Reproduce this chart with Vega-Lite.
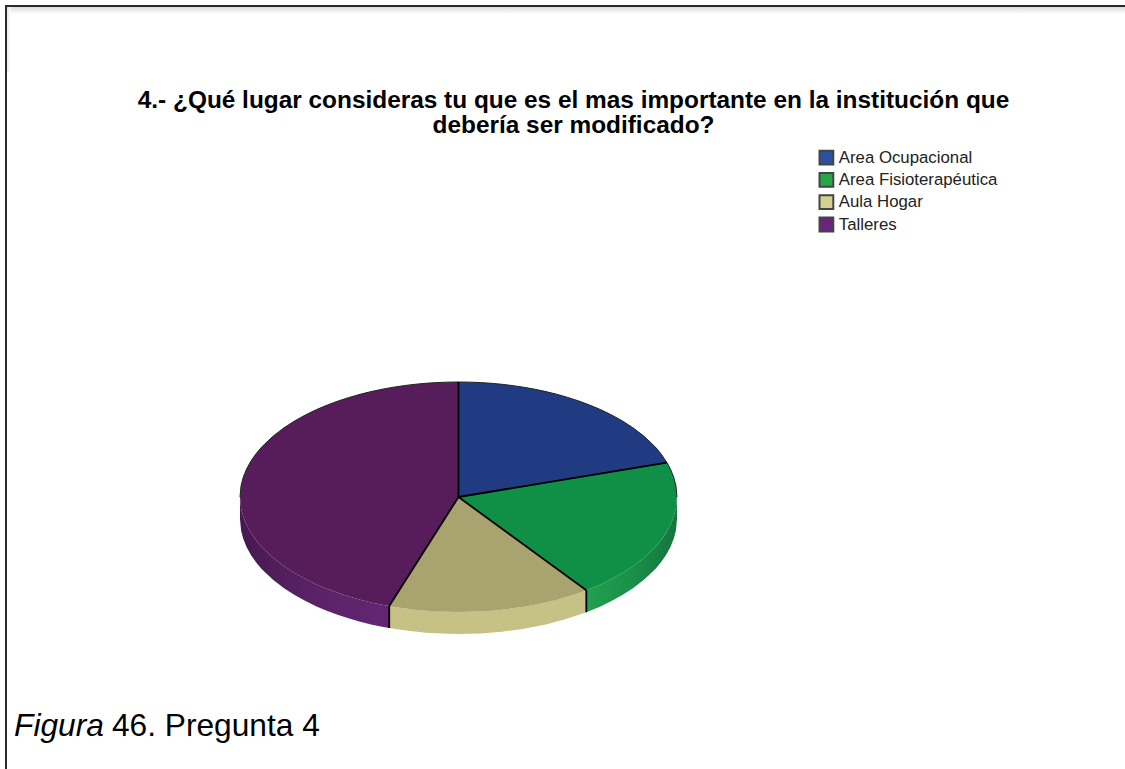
{"$schema":"https://vega.github.io/schema/vega-lite/v6.json","width":1125,"height":769,"autosize":{"type":"none"},"padding":{"left":6,"top":6,"right":0,"bottom":0},"background":"white","view":{"stroke":"#2a2a2a","strokeWidth":2,"fill":"white"},
"title":{"text":["4.- ¿Qué lugar consideras tu que es el mas importante en la institución que","debería ser modificado?"],"font":"Liberation Sans","fontSize":24.4,"fontWeight":"bold","color":"#000000","anchor":"middle","dx":5,"baseline":"alphabetic","offset":-151,"lineHeight":25},
"datasets":{
"faces":[
{"slice":"Area Ocupacional","x":0,"y":1,"y2":0},{"slice":"Area Ocupacional","x":0.05,"y":0.9987,"y2":0.0157},{"slice":"Area Ocupacional","x":0.1,"y":0.995,"y2":0.0313},{"slice":"Area Ocupacional","x":0.15,"y":0.9887,"y2":0.047},{"slice":"Area Ocupacional","x":0.2,"y":0.9798,"y2":0.0627},{"slice":"Area Ocupacional","x":0.25,"y":0.9682,"y2":0.0784},{"slice":"Area Ocupacional","x":0.3,"y":0.9539,"y2":0.094},{"slice":"Area Ocupacional","x":0.35,"y":0.9367,"y2":0.1097},{"slice":"Area Ocupacional","x":0.4,"y":0.9165,"y2":0.1254},{"slice":"Area Ocupacional","x":0.45,"y":0.893,"y2":0.141},{"slice":"Area Ocupacional","x":0.5,"y":0.866,"y2":0.1567},{"slice":"Area Ocupacional","x":0.55,"y":0.8352,"y2":0.1724},{"slice":"Area Ocupacional","x":0.6,"y":0.8,"y2":0.188},{"slice":"Area Ocupacional","x":0.65,"y":0.7599,"y2":0.2037},{"slice":"Area Ocupacional","x":0.7,"y":0.7141,"y2":0.2194},{"slice":"Area Ocupacional","x":0.75,"y":0.6614,"y2":0.2351},{"slice":"Area Ocupacional","x":0.8,"y":0.6,"y2":0.2507},{"slice":"Area Ocupacional","x":0.85,"y":0.5268,"y2":0.2664},{"slice":"Area Ocupacional","x":0.9,"y":0.4359,"y2":0.2821},{"slice":"Area Ocupacional","x":0.925,"y":0.38,"y2":0.2899},{"slice":"Area Ocupacional","x":0.954,"y":0.299,"y2":0.299},
{"slice":"Area Fisioterapéutica","x":0,"y":0,"y2":0},{"slice":"Area Fisioterapéutica","x":0.05,"y":0.0157,"y2":-0.0693},{"slice":"Area Fisioterapéutica","x":0.1,"y":0.0313,"y2":-0.1386},{"slice":"Area Fisioterapéutica","x":0.15,"y":0.047,"y2":-0.2079},{"slice":"Area Fisioterapéutica","x":0.2,"y":0.0627,"y2":-0.2772},{"slice":"Area Fisioterapéutica","x":0.25,"y":0.0784,"y2":-0.3465},{"slice":"Area Fisioterapéutica","x":0.3,"y":0.094,"y2":-0.4158},{"slice":"Area Fisioterapéutica","x":0.35,"y":0.1097,"y2":-0.4851},{"slice":"Area Fisioterapéutica","x":0.4,"y":0.1254,"y2":-0.5544},{"slice":"Area Fisioterapéutica","x":0.45,"y":0.141,"y2":-0.6237},{"slice":"Area Fisioterapéutica","x":0.5,"y":0.1567,"y2":-0.693},{"slice":"Area Fisioterapéutica","x":0.55,"y":0.1724,"y2":-0.7623},{"slice":"Area Fisioterapéutica","x":0.585,"y":0.1833,"y2":-0.811},{"slice":"Area Fisioterapéutica","x":0.6,"y":0.188,"y2":-0.8},{"slice":"Area Fisioterapéutica","x":0.65,"y":0.2037,"y2":-0.7599},{"slice":"Area Fisioterapéutica","x":0.7,"y":0.2194,"y2":-0.7141},{"slice":"Area Fisioterapéutica","x":0.75,"y":0.2351,"y2":-0.6614},{"slice":"Area Fisioterapéutica","x":0.8,"y":0.2507,"y2":-0.6},{"slice":"Area Fisioterapéutica","x":0.85,"y":0.2664,"y2":-0.5268},{"slice":"Area Fisioterapéutica","x":0.9,"y":0.2821,"y2":-0.4359},{"slice":"Area Fisioterapéutica","x":0.925,"y":0.2899,"y2":-0.38},{"slice":"Area Fisioterapéutica","x":0.954,"y":0.299,"y2":-0.2999},{"slice":"Area Fisioterapéutica","x":0.97,"y":0.2431,"y2":-0.2431},{"slice":"Area Fisioterapéutica","x":0.985,"y":0.1726,"y2":-0.1726},{"slice":"Area Fisioterapéutica","x":0.995,"y":0.0999,"y2":-0.0999},{"slice":"Area Fisioterapéutica","x":1,"y":0,"y2":0},
{"slice":"Aula Hogar","x":-0.317,"y":-0.948,"y2":-0.948},{"slice":"Aula Hogar","x":-0.3,"y":-0.897,"y2":-0.9539},{"slice":"Aula Hogar","x":-0.25,"y":-0.7476,"y2":-0.9682},{"slice":"Aula Hogar","x":-0.2,"y":-0.598,"y2":-0.9798},{"slice":"Aula Hogar","x":-0.15,"y":-0.4486,"y2":-0.9887},{"slice":"Aula Hogar","x":-0.1,"y":-0.299,"y2":-0.995},{"slice":"Aula Hogar","x":-0.05,"y":-0.1495,"y2":-0.9987},{"slice":"Aula Hogar","x":0,"y":0,"y2":-1},{"slice":"Aula Hogar","x":0.05,"y":-0.0693,"y2":-0.9987},{"slice":"Aula Hogar","x":0.1,"y":-0.1386,"y2":-0.995},{"slice":"Aula Hogar","x":0.15,"y":-0.2079,"y2":-0.9887},{"slice":"Aula Hogar","x":0.2,"y":-0.2772,"y2":-0.9798},{"slice":"Aula Hogar","x":0.25,"y":-0.3465,"y2":-0.9682},{"slice":"Aula Hogar","x":0.3,"y":-0.4158,"y2":-0.9539},{"slice":"Aula Hogar","x":0.35,"y":-0.4851,"y2":-0.9367},{"slice":"Aula Hogar","x":0.4,"y":-0.5544,"y2":-0.9165},{"slice":"Aula Hogar","x":0.45,"y":-0.6237,"y2":-0.893},{"slice":"Aula Hogar","x":0.5,"y":-0.693,"y2":-0.866},{"slice":"Aula Hogar","x":0.55,"y":-0.7623,"y2":-0.8352},{"slice":"Aula Hogar","x":0.585,"y":-0.811,"y2":-0.811},
{"slice":"Talleres","x":-1,"y":0,"y2":0},{"slice":"Talleres","x":-0.995,"y":0.0999,"y2":-0.0999},{"slice":"Talleres","x":-0.985,"y":0.1726,"y2":-0.1726},{"slice":"Talleres","x":-0.97,"y":0.2431,"y2":-0.2431},{"slice":"Talleres","x":-0.95,"y":0.3122,"y2":-0.3122},{"slice":"Talleres","x":-0.925,"y":0.38,"y2":-0.38},{"slice":"Talleres","x":-0.9,"y":0.4359,"y2":-0.4359},{"slice":"Talleres","x":-0.85,"y":0.5268,"y2":-0.5268},{"slice":"Talleres","x":-0.8,"y":0.6,"y2":-0.6},{"slice":"Talleres","x":-0.75,"y":0.6614,"y2":-0.6614},{"slice":"Talleres","x":-0.7,"y":0.7141,"y2":-0.7141},{"slice":"Talleres","x":-0.65,"y":0.7599,"y2":-0.7599},{"slice":"Talleres","x":-0.6,"y":0.8,"y2":-0.8},{"slice":"Talleres","x":-0.55,"y":0.8352,"y2":-0.8352},{"slice":"Talleres","x":-0.5,"y":0.866,"y2":-0.866},{"slice":"Talleres","x":-0.45,"y":0.893,"y2":-0.893},{"slice":"Talleres","x":-0.4,"y":0.9165,"y2":-0.9165},{"slice":"Talleres","x":-0.35,"y":0.9367,"y2":-0.9367},{"slice":"Talleres","x":-0.317,"y":0.9484,"y2":-0.948},{"slice":"Talleres","x":-0.3,"y":0.9539,"y2":-0.897},{"slice":"Talleres","x":-0.25,"y":0.9682,"y2":-0.7476},{"slice":"Talleres","x":-0.2,"y":0.9798,"y2":-0.598},{"slice":"Talleres","x":-0.15,"y":0.9887,"y2":-0.4486},{"slice":"Talleres","x":-0.1,"y":0.995,"y2":-0.299},{"slice":"Talleres","x":-0.05,"y":0.9987,"y2":-0.1495},{"slice":"Talleres","x":0,"y":1,"y2":0}],
"sides":[
{"slice":"Talleres","x":-1,"y":0,"y2":-0.1913},{"slice":"Talleres","x":-0.995,"y":-0.0999,"y2":-0.2912},{"slice":"Talleres","x":-0.985,"y":-0.1726,"y2":-0.3639},{"slice":"Talleres","x":-0.97,"y":-0.2431,"y2":-0.4344},{"slice":"Talleres","x":-0.95,"y":-0.3122,"y2":-0.5035},{"slice":"Talleres","x":-0.925,"y":-0.38,"y2":-0.5713},{"slice":"Talleres","x":-0.9,"y":-0.4359,"y2":-0.6272},{"slice":"Talleres","x":-0.85,"y":-0.5268,"y2":-0.7181},{"slice":"Talleres","x":-0.8,"y":-0.6,"y2":-0.7913},{"slice":"Talleres","x":-0.75,"y":-0.6614,"y2":-0.8527},{"slice":"Talleres","x":-0.7,"y":-0.7141,"y2":-0.9054},{"slice":"Talleres","x":-0.65,"y":-0.7599,"y2":-0.9512},{"slice":"Talleres","x":-0.6,"y":-0.8,"y2":-0.9913},{"slice":"Talleres","x":-0.55,"y":-0.8352,"y2":-1.0265},{"slice":"Talleres","x":-0.5,"y":-0.866,"y2":-1.0573},{"slice":"Talleres","x":-0.45,"y":-0.893,"y2":-1.0843},{"slice":"Talleres","x":-0.4,"y":-0.9165,"y2":-1.1078},{"slice":"Talleres","x":-0.35,"y":-0.9367,"y2":-1.128},{"slice":"Talleres","x":-0.317,"y":-0.948,"y2":-1.1393},
{"slice":"Aula Hogar","x":-0.317,"y":-0.948,"y2":-1.1393},{"slice":"Aula Hogar","x":-0.25,"y":-0.9682,"y2":-1.1595},{"slice":"Aula Hogar","x":-0.15,"y":-0.9887,"y2":-1.18},{"slice":"Aula Hogar","x":-0.05,"y":-0.9987,"y2":-1.19},{"slice":"Aula Hogar","x":0,"y":-1,"y2":-1.1913},{"slice":"Aula Hogar","x":0.1,"y":-0.995,"y2":-1.1863},{"slice":"Aula Hogar","x":0.2,"y":-0.9798,"y2":-1.1711},{"slice":"Aula Hogar","x":0.3,"y":-0.9539,"y2":-1.1452},{"slice":"Aula Hogar","x":0.4,"y":-0.9165,"y2":-1.1078},{"slice":"Aula Hogar","x":0.5,"y":-0.866,"y2":-1.0573},{"slice":"Aula Hogar","x":0.585,"y":-0.811,"y2":-1.0023},
{"slice":"Area Fisioterapéutica","x":0.585,"y":-0.811,"y2":-1.0023},{"slice":"Area Fisioterapéutica","x":0.65,"y":-0.7599,"y2":-0.9512},{"slice":"Area Fisioterapéutica","x":0.7,"y":-0.7141,"y2":-0.9054},{"slice":"Area Fisioterapéutica","x":0.75,"y":-0.6614,"y2":-0.8527},{"slice":"Area Fisioterapéutica","x":0.8,"y":-0.6,"y2":-0.7913},{"slice":"Area Fisioterapéutica","x":0.85,"y":-0.5268,"y2":-0.7181},{"slice":"Area Fisioterapéutica","x":0.9,"y":-0.4359,"y2":-0.6272},{"slice":"Area Fisioterapéutica","x":0.925,"y":-0.38,"y2":-0.5713},{"slice":"Area Fisioterapéutica","x":0.95,"y":-0.3122,"y2":-0.5035},{"slice":"Area Fisioterapéutica","x":0.97,"y":-0.2431,"y2":-0.4344},{"slice":"Area Fisioterapéutica","x":0.985,"y":-0.1726,"y2":-0.3639},{"slice":"Area Fisioterapéutica","x":0.995,"y":-0.0999,"y2":-0.2912},{"slice":"Area Fisioterapéutica","x":1,"y":0,"y2":-0.1913}],
"seams":[
{"seam":"a","x":0,"y":0},{"seam":"a","x":0,"y":1},
{"seam":"b","x":0,"y":0},{"seam":"b","x":0.954,"y":0.299},
{"seam":"c","x":0,"y":0},{"seam":"c","x":0.585,"y":-0.811},
{"seam":"d","x":-0.317,"y":-0.948},{"seam":"d","x":0,"y":0},
{"seam":"e","x":-0.317,"y":-0.948},{"seam":"e","x":-0.317,"y":-1.1393},
{"seam":"f","x":0.585,"y":-0.811},{"seam":"f","x":0.585,"y":-1.0023}],
"captions":[{"t":"Figura","x":-2.034,"y":-2.078,"part":"italic"},{"t":"46. Pregunta 4","x":-1.586,"y":-2.078,"part":"regular"}],
"bands":[{"band":"top","x":-2.066,"x2":3.0778,"y":4.26,"y2":4.2},{"band":"left","x":-2.066,"x2":-2.05,"y":4.26,"y2":3.7}]},
"encoding":{
"x":{"field":"x","type":"quantitative","axis":null,"scale":{"domain":[-2.0709,3.0778],"nice":false,"zero":false}},
"y":{"field":"y","type":"quantitative","axis":null,"stack":null,"scale":{"domain":[-2.4174,4.2696],"nice":false,"zero":false}}},
"resolve":{"scale":{"color":"independent"}},
"layer":[
{"data":{"name":"bands"},"transform":[{"filter":"datum.band==='top'"}],"mark":{"type":"rect","color":{"gradient":"linear","x1":0,"y1":0,"x2":0,"y2":1,"stops":[{"offset":0,"color":"#dcdcdc"},{"offset":1,"color":"#ffffff"}]}},"encoding":{"x2":{"field":"x2"},"y2":{"field":"y2"}}},
{"data":{"name":"bands"},"transform":[{"filter":"datum.band==='left'"}],"mark":{"type":"rect","color":{"gradient":"linear","x1":0,"y1":0,"x2":1,"y2":0,"stops":[{"offset":0,"color":"#e6e6e6"},{"offset":1,"color":"#ffffff"}]}},"encoding":{"x2":{"field":"x2"},"y2":{"field":"y2"}}},
{"data":{"name":"sides"},"transform":[{"filter":"datum.slice==='Talleres'"}],"mark":{"type":"area","color":{"gradient":"linear","x1":0,"y1":0,"x2":1,"y2":0,"stops":[{"offset":0,"color":"#47194f"},{"offset":0.5,"color":"#5a2268"},{"offset":1,"color":"#642673"}]}},"encoding":{"y2":{"field":"y2"}}},
{"data":{"name":"sides"},"transform":[{"filter":"datum.slice==='Aula Hogar'"}],"mark":{"type":"area","color":"#c6c285"},"encoding":{"y2":{"field":"y2"}}},
{"data":{"name":"sides"},"transform":[{"filter":"datum.slice==='Area Fisioterapéutica'"}],"mark":{"type":"area","color":{"gradient":"linear","x1":0,"y1":0,"x2":1,"y2":0,"stops":[{"offset":0,"color":"#22a04f"},{"offset":0.5,"color":"#1a9049"},{"offset":1,"color":"#14753f"}]}},"encoding":{"y2":{"field":"y2"}}},
{"data":{"name":"faces"},"mark":{"type":"area"},"encoding":{"y2":{"field":"y2"},
"color":{"field":"slice","type":"nominal","scale":{"domain":["Area Ocupacional","Area Fisioterapéutica","Aula Hogar","Talleres"],"range":["#203b82","#0f9046","#a8a36f","#571d5b"]},"legend":null}}},
{"data":{"name":"faces"},"transform":[{"filter":"datum.slice!=='Aula Hogar'"}],"mark":{"type":"line","color":"#222222","strokeWidth":1},"encoding":{"detail":{"field":"slice"}}},
{"data":{"name":"seams"},"mark":{"type":"line","color":"#000000","strokeWidth":1.8},"encoding":{"detail":{"field":"seam"}}},
{"data":{"name":"captions"},"transform":[{"filter":"datum.part==='italic'"}],"mark":{"type":"text","font":"Liberation Sans","fontSize":31.7,"fontStyle":"italic","align":"left","baseline":"alphabetic","color":"#000000"},"encoding":{"text":{"field":"t"}}},
{"data":{"name":"captions"},"transform":[{"filter":"datum.part==='regular'"}],"mark":{"type":"text","font":"Liberation Sans","fontSize":31.7,"align":"left","baseline":"alphabetic","color":"#000000"},"encoding":{"text":{"field":"t"}}},
{"data":{"name":"faces"},"transform":[{"filter":"false"}],"mark":{"type":"point","shape":"square","filled":true},"encoding":{"color":{"field":"slice","type":"nominal","scale":{"domain":["Area Ocupacional","Area Fisioterapéutica","Aula Hogar","Talleres"],"range":["#2c4fa0","#26a84a","#d4cf8f","#6b2380"]},
"legend":{"title":null,"orient":"none","legendX":812,"legendY":142.6,"symbolType":"square","symbolSize":190,"symbolStrokeColor":"#444444","symbolStrokeWidth":2,"symbolOpacity":1,"labelFont":"Liberation Sans","labelFontSize":16.8,"labelColor":"#222222","labelLimit":300,"labelOffset":4,"rowPadding":4.3,"clipHeight":18,"values":["Area Ocupacional","Area Fisioterapéutica","Aula Hogar","Talleres"]}}}}
]}
